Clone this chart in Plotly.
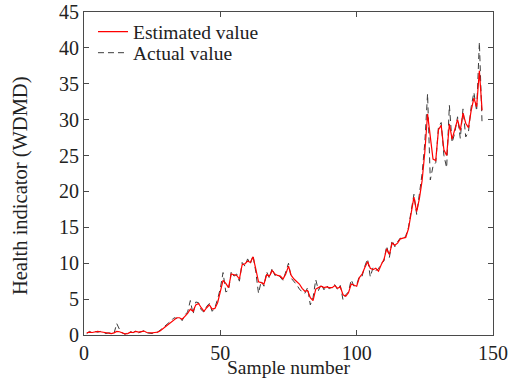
import plotly.graph_objects as go

# Sample indices and health-indicator series
sample_number = list(range(1, 147))

estimated_value = [
    0.3, 0.4, 0.35, 0.45, 0.5, 0.45, 0.4, 0.3, 0.25, 0.2,
    0.3, 0.5, 0.45, 0.25, 0.15, 0.2, 0.4, 0.35, 0.5, 0.4,
    0.45, 0.55, 0.35, 0.3, 0.3, 0.35, 0.4, 0.6, 0.9, 1.2,
    1.5, 1.9, 2.2, 2.4, 2.4, 2.2, 2.6, 3.0, 3.6, 3.3,
    4.2, 4.4, 3.8, 3.3, 3.8, 4.2, 3.6, 3.7, 4.5, 6.0,
    7.6, 7.2, 6.6, 8.5, 8.4, 8.3, 7.8, 9.8, 9.9, 10.3,
    10.1, 10.9, 9.2, 7.4, 7.3, 7.1, 8.4, 8.2, 9.0, 8.5,
    8.3, 8.2, 7.8, 8.5, 9.6, 8.3, 7.8, 7.4, 7.1, 6.5,
    6.1, 6.2, 5.2, 4.8, 6.4, 6.6, 6.8, 6.6, 6.7, 6.6,
    6.6, 6.9, 6.5, 6.7, 5.6, 5.4, 5.9, 7.1, 7.0, 6.8,
    8.0, 8.5, 9.4, 10.2, 9.3, 9.1, 9.3, 8.9, 9.8, 10.5,
    12.0, 11.2, 12.8, 12.5, 12.8, 13.4, 13.5, 13.6, 14.8, 17.2,
    19.2, 17.2, 19.0, 21.5, 25.5, 30.8, 27.5, 24.5, 24.3, 28.6,
    29.2, 25.8, 25.0, 29.4, 27.3, 28.5, 30.0, 28.5, 30.9, 29.5,
    28.9, 31.3, 33.0, 31.8, 36.8, 31.3,
]

actual_value = [
    0.2, 0.5, 0.3, 0.5, 0.4, 0.5, 0.3, 0.2, 0.3, 0.2,
    0.2, 1.6, 0.8, 0.3, 0.1, 0.3, 0.5, 0.3, 0.6, 0.3,
    0.5, 0.6, 0.3, 0.3, 0.2, 0.4, 0.4, 0.7, 1.0, 1.3,
    1.7, 2.0, 2.4, 2.3, 2.5, 2.0, 2.8, 3.2, 4.8, 2.9,
    4.6, 4.5, 3.5, 3.2, 4.0, 4.4, 3.3, 3.8, 5.0, 6.5,
    8.7, 6.0, 6.2, 8.8, 8.2, 8.5, 7.5, 10.1, 9.6, 10.6,
    9.9, 11.1, 8.8, 5.8, 7.5, 6.8, 8.8, 7.9, 9.3, 8.3,
    8.5, 8.0, 7.6, 8.8, 10.0, 7.9, 7.5, 7.0, 6.4, 6.0,
    5.8, 6.6, 4.2, 5.2, 7.7, 6.2, 7.1, 6.3, 6.9, 6.4,
    6.8, 7.0, 6.3, 6.9, 4.9, 5.6, 6.0, 7.7, 6.8, 7.0,
    8.2, 8.2, 9.6, 10.6, 8.1, 9.4, 9.0, 9.2, 10.0, 10.3,
    12.4, 10.8, 13.2, 12.3, 13.0, 13.5, 13.3, 13.8, 15.0, 17.6,
    19.6, 16.8, 19.4, 22.5, 26.8, 33.6, 21.6, 23.5, 24.0, 29.0,
    29.6, 25.0, 23.3, 32.0, 26.8, 28.2, 30.4, 27.4, 31.5, 27.6,
    28.3, 31.8, 33.8, 31.2, 40.8, 29.4,
]

x_ticks = [0, 50, 100, 150]
y_ticks = [0, 5, 10, 15, 20, 25, 30, 35, 40, 45]

FONT = "Liberation Serif, Times New Roman, serif"
TEXT_COLOR = "#222222"
AXIS_COLOR = "#4a4a4a"

fig = go.Figure()

# Actual values first so the estimate is drawn on top
fig.add_trace(go.Scatter(
    x=sample_number, y=actual_value, mode="lines",
    name="Actual value", legend="legend2",
    line=dict(color="#3c3c3c", width=1, dash="6px,4px"),
))
fig.add_trace(go.Scatter(
    x=sample_number, y=estimated_value, mode="lines",
    name="Estimated value", legend="legend",
    line=dict(color="#ff0000", width=1.2),
))

axis_common = dict(
    showgrid=False, zeroline=False, automargin=False,
    showline=True, linecolor=AXIS_COLOR, linewidth=1.2, mirror="ticks",
    ticks="inside", ticklen=5, tickcolor=AXIS_COLOR, tickwidth=1,
    tickfont=dict(family=FONT, size=20, color=TEXT_COLOR),
)

legend_common = dict(
    x=0.022, xanchor="left", yanchor="middle",
    bgcolor="rgba(255,255,255,0)", borderwidth=0,
    font=dict(family=FONT, size=19.5, color=TEXT_COLOR),
    itemwidth=30,
)

fig.update_layout(
    width=509, height=379,
    margin=dict(l=84, r=16, t=12, b=44),
    paper_bgcolor="white", plot_bgcolor="white",
    font=dict(family=FONT, color=TEXT_COLOR),
    xaxis=dict(range=[0, 150], tickvals=x_ticks, **axis_common),
    yaxis=dict(range=[0, 45], tickvals=y_ticks, **axis_common),
    legend=dict(y=0.938, **legend_common),
    legend2=dict(y=0.873, **legend_common),
    showlegend=True,
    annotations=[
        dict(text="Sample number", xref="paper", yref="paper",
             x=0.5, y=0, xanchor="center", yanchor="middle", yshift=-32,
             showarrow=False, font=dict(family=FONT, size=19.5, color=TEXT_COLOR)),
        dict(text="Health indicator (WDMD)", xref="paper", yref="paper",
             x=0, y=0.461, xanchor="center", yanchor="middle", xshift=-64,
             textangle=-90, showarrow=False,
             font=dict(family=FONT, size=20.5, color=TEXT_COLOR)),
    ],
)

fig.write_html("out.html")
